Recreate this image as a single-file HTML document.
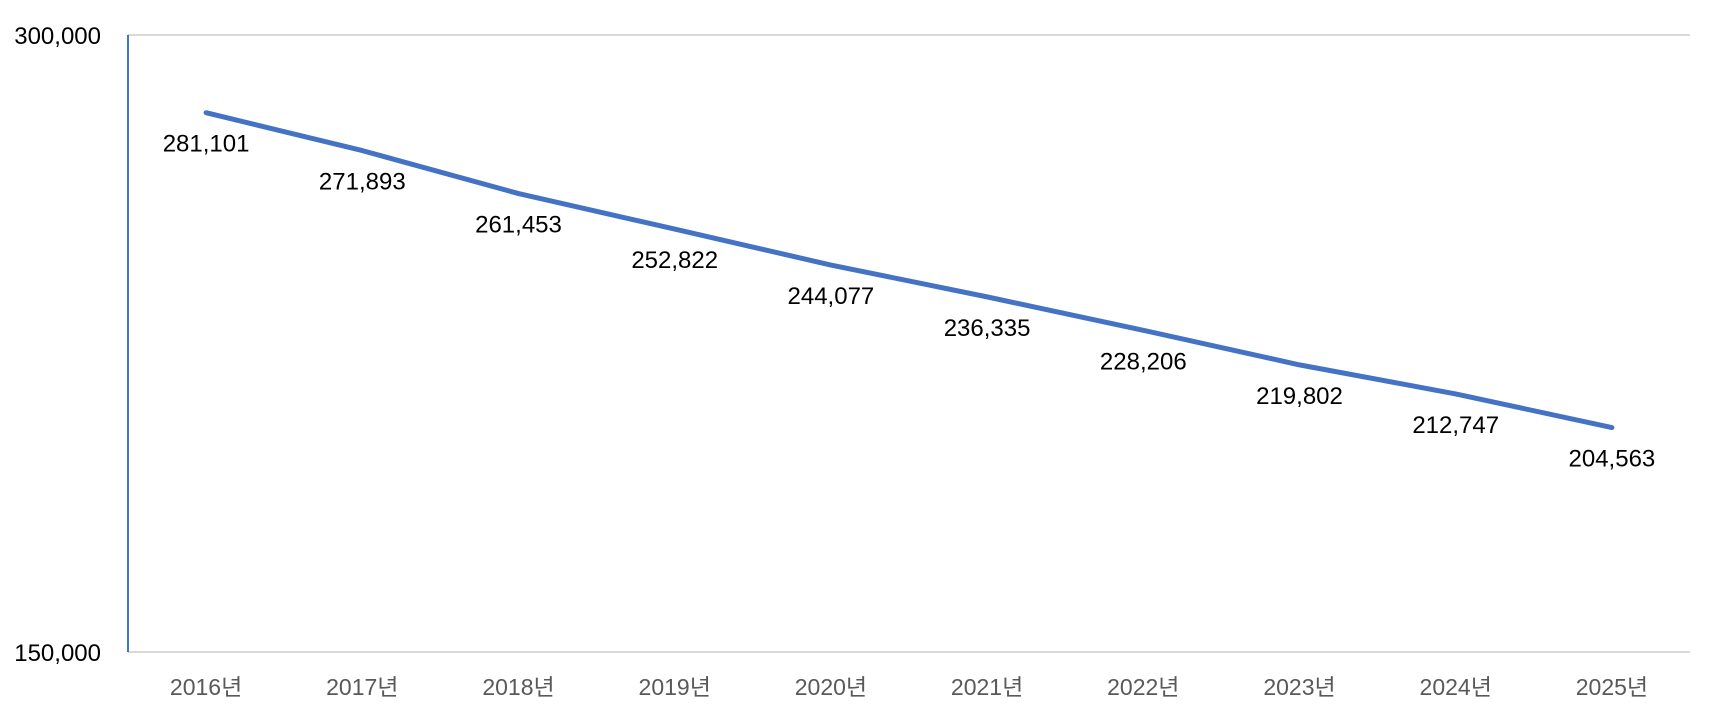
<!DOCTYPE html>
<html><head><meta charset="utf-8"><style>
html,body{margin:0;padding:0;background:#fff;}
svg{display:block;font-family:"Liberation Sans","Noto Sans CJK KR",sans-serif;}
</style></head><body>
<svg id="chart" width="1715" height="728"></svg>
<script>
const categories=["2016년","2017년","2018년","2019년","2020년","2021년","2022년","2023년","2024년","2025년"];
const values=[281101,271893,261453,252822,244077,236335,228206,219802,212747,204563];
const yTicks=[150000,300000];
const yTickLabels=["150,000","300,000"];
const NS="http://www.w3.org/2000/svg";
const svg=document.getElementById('chart');
const L=128,R=1690,T=35,B=652,yMin=150000,yMax=300000;
const band=(R-L)/categories.length;
const x=i=>L+band*(i+0.5);
const y=v=>B-(v-yMin)/(yMax-yMin)*(B-T);
function mk(tag,attrs){const e=document.createElementNS(NS,tag);for(const k in attrs)e.setAttribute(k,attrs[k]);svg.appendChild(e);return e;}
yTicks.forEach((t,i)=>{
  const g=mk('line',{x1:L,x2:R,y1:y(t),y2:y(t),stroke:'#d9d9d9','stroke-width':2});
  
  
  const tx=mk('text',{x:101,y:y(t)+9,'text-anchor':'end','font-size':24,fill:'#000'});
  tx.textContent=yTickLabels[i];
  
  
});
const ax=mk('line',{x1:L,x2:L,y1:T,y2:B,stroke:'#4472c4','stroke-width':2});


categories.forEach((c,i)=>{
  const t=mk('text',{x:x(i),y:695,'text-anchor':'middle','font-size':23,fill:'#595959'});
  t.textContent=c;
  
  
});
const pts=values.map((v,i)=>x(i)+','+y(v)).join(' ');
const pl=mk('polyline',{points:pts,fill:'none',stroke:'#4472c4','stroke-width':5,'stroke-linecap':'round','stroke-linejoin':'round'});


values.forEach((v,i)=>{
  const t=mk('text',{x:x(i),y:y(v)+39,'text-anchor':'middle','font-size':24,fill:'#000'});
  t.textContent=v.toLocaleString('en-US');
  
  
});
</script>
</body></html>
